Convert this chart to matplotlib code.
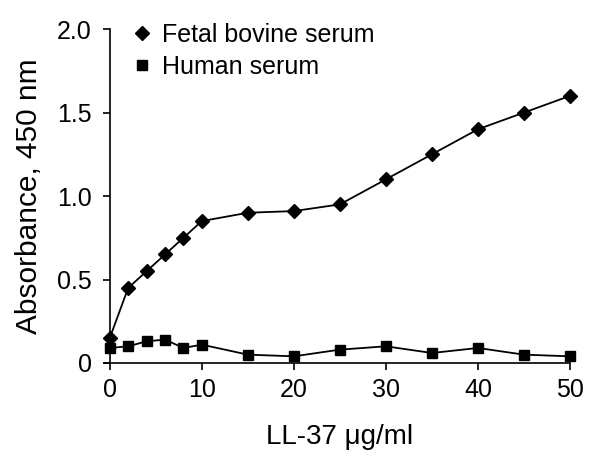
import numpy as np
import matplotlib
matplotlib.use("Agg")
import matplotlib.pyplot as plt

plt.rcParams['font.family'] = ['Liberation Sans', 'DejaVu Sans']

# LL-37 concentrations (ug/ml)
conc = [0, 2, 4, 6, 8, 10, 15, 20, 25, 30, 35, 40, 45, 50]
fbs = [0.15, 0.45, 0.55, 0.65, 0.75, 0.85, 0.90, 0.91, 0.95, 1.10, 1.25, 1.40, 1.50, 1.60]
human = [0.09, 0.10, 0.13, 0.14, 0.09, 0.11, 0.05, 0.04, 0.08, 0.10, 0.06, 0.09, 0.05, 0.04]

xticks = [0, 10, 20, 30, 40, 50]
yticks = [0, 0.5, 1.0, 1.5, 2.0]
ylabels = ['0', '0.5', '1.0', '1.5', '2.0']

fig = plt.figure(figsize=(6, 4.67), dpi=100)
ax = fig.add_axes([0.183, 0.2227, 0.767, 0.715])

ax.plot(conc, fbs, color='black', lw=1.3, marker='D', ms=7, label='Fetal bovine serum')
ax.plot(conc, human, color='black', lw=1.3, marker='s', ms=7.5, label='Human serum')

ax.set_xlim(0, 50)
ax.set_ylim(0, 2.0)
ax.set_xticks(xticks)
ax.set_yticks(yticks)
ax.set_yticklabels(ylabels)
ax.tick_params(labelsize=18, width=1.2, length=5)
ax.tick_params(axis='y', pad=8)
ax.tick_params(axis='x', pad=6)
ax.spines['top'].set_visible(False)
ax.spines['right'].set_visible(False)
for s in ['left', 'bottom']:
    ax.spines[s].set_linewidth(1.2)
ax.spines['bottom'].set_bounds(-0.6, 50)
for c in ax.get_children():
    c.set_clip_on(False)
ax.set_xlim(0, 50)

ax.set_xlabel('LL-37 \u03bcg/ml', fontsize=20, labelpad=16)
ax.set_ylabel('Absorbance, 450 nm', fontsize=21.5, labelpad=10)

leg = ax.legend(loc='upper left', bbox_to_anchor=(-0.005, 1.085), frameon=False,
                fontsize=18, handlelength=1.0, handletextpad=0.3, labelspacing=0.3)
for h in leg.legend_handles:
    h.set_linestyle('')

fig.savefig('out.png', dpi=100)
